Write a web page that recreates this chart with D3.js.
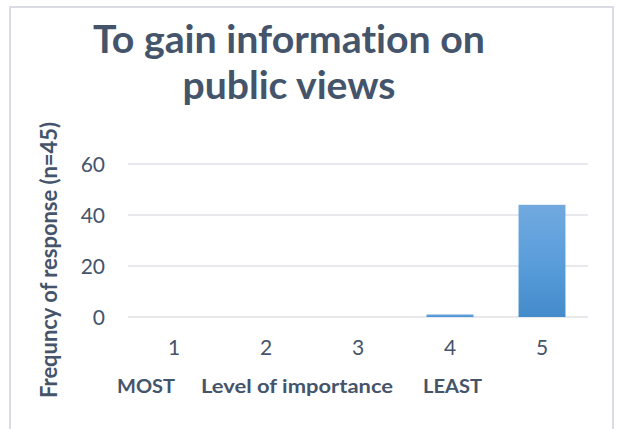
<!DOCTYPE html>
<html>
<head>
<meta charset="utf-8">
<script src="https://cdn.jsdelivr.net/npm/d3@7"></script>
<style>
  html, body { margin: 0; padding: 0; background: #fff; }
  svg { display: block; }
  text { font-family: Lato, "Open Sans", sans-serif; fill: #44546a;
         font-variant-ligatures: none; font-feature-settings: "liga" 0, "dlig" 0; }
</style>
</head>
<body>
<svg id="chart" width="617" height="429"></svg>
<script>
// Responses per importance level (n = 45)
const categories = ["1", "2", "3", "4", "5"];
const frequencies = [0, 0, 0, 1, 44];
const yTicks = [0, 20, 40, 60];
const titleLines = ["To gain information on", "public views"];
const axisNotes = ["MOST", "Level of importance", "LEAST"];
const yTitle = "Frequncy of response (n=45)";

const svg = d3.select("#chart");
const H = 429;
const plot = { left: 128, right: 588, top: 164, bottom: 317 };
const font = "Lato, 'Open Sans', sans-serif";

// Chart frame
svg.append("rect")
  .attr("x", 10).attr("y", 7)
  .attr("width", 603).attr("height", H)
  .attr("fill", "#fff")
  .attr("stroke", "#d9dde3").attr("stroke-width", 2);

const x = d3.scaleBand().domain(categories)
  .range([plot.left, plot.right]).paddingInner(0.49).paddingOuter(0.245);
const y = d3.scaleLinear().domain([0, 60]).range([plot.bottom, plot.top]);

// Gradient fill for bars
const grad = svg.append("defs").append("linearGradient")
  .attr("id", "barFill").attr("x1", 0).attr("y1", 0).attr("x2", 0).attr("y2", 1);
grad.append("stop").attr("offset", "0%").attr("stop-color", "#72a9df");
grad.append("stop").attr("offset", "50%").attr("stop-color", "#5a9edb");
grad.append("stop").attr("offset", "100%").attr("stop-color", "#448bcb");

// Gridlines
svg.append("g").selectAll("line").data(yTicks).join("line")
  .attr("x1", plot.left).attr("x2", plot.right)
  .attr("y1", d => y(d)).attr("y2", d => y(d))
  .attr("stroke", "#dfe2e6").attr("stroke-width", 1.5);

// Y axis
const yAxis = svg.append("g")
  .attr("transform", `translate(${plot.left},0)`)
  .call(d3.axisLeft(y).tickValues(yTicks).tickSize(0).tickPadding(23));
yAxis.select(".domain").remove();
yAxis.selectAll("text").style("font-size", "21px").style("fill", "#44546a")
  .style("font-family", font).attr("dy", "0.36em");

// X axis
const xAxis = svg.append("g")
  .attr("transform", `translate(0,${plot.bottom})`)
  .call(d3.axisBottom(x).tickSize(0).tickPadding(23));
xAxis.select(".domain").remove();
xAxis.selectAll("text").style("font-size", "21px").style("fill", "#44546a")
  .style("font-family", font);

// Bars
svg.append("g").selectAll("rect").data(categories).join("rect")
  .attr("x", d => x(d))
  .attr("width", x.bandwidth())
  .attr("y", (d, i) => y(frequencies[i]))
  .attr("height", (d, i) => plot.bottom - y(frequencies[i]))
  .attr("fill", "url(#barFill)");

// Annotation row under the category labels
const noteLayout = [
  { cx: 146, w: 58 },
  { cx: 297, w: 192 },
  { cx: 452.5, w: 59 }
];
svg.append("g").selectAll("text").data(axisNotes).join("text")
  .attr("x", (d, i) => noteLayout[i].cx)
  .attr("y", 393)
  .attr("text-anchor", "middle")
  .attr("textLength", (d, i) => noteLayout[i].w)
  .attr("lengthAdjust", "spacingAndGlyphs")
  .style("font-size", "19px").style("font-weight", "bold")
  .text(d => d);

// Y axis title
svg.append("text")
  .attr("transform", "translate(57,260) rotate(-90)")
  .attr("text-anchor", "middle")
  .attr("textLength", 276)
  .attr("lengthAdjust", "spacingAndGlyphs")
  .style("font-size", "22.5px").style("font-weight", "bold")
  .text(yTitle);

// Chart title
const titleWidths = [392, 213];
svg.append("g").selectAll("text").data(titleLines).join("text")
  .attr("x", 289)
  .attr("y", (d, i) => 53 + i * 46)
  .attr("text-anchor", "middle")
  .attr("textLength", (d, i) => titleWidths[i])
  .attr("lengthAdjust", "spacingAndGlyphs")
  .style("font-size", "37.5px").style("font-weight", "bold")
  .text(d => d);
</script>
</body>
</html>
